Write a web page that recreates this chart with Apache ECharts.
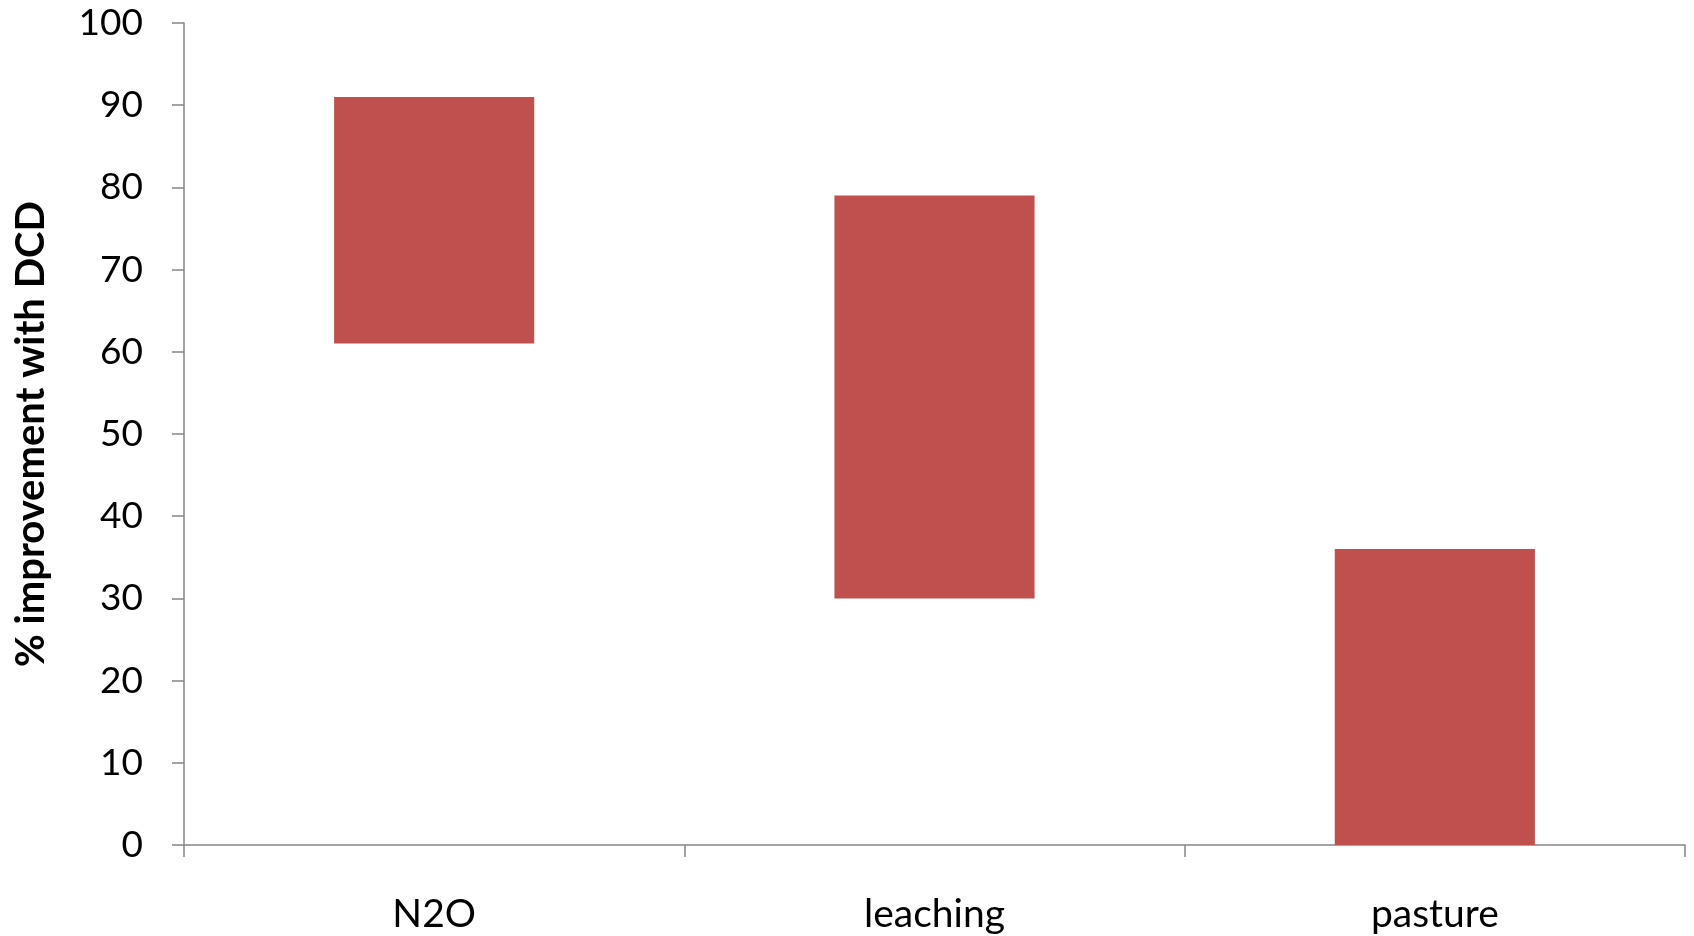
<!DOCTYPE html>
<html>
<head>
<meta charset="utf-8">
<script src="https://cdn.jsdelivr.net/npm/echarts@6/dist/echarts.min.js"></script>
<style>
  html, body { margin: 0; padding: 0; background: #ffffff; }
  #chart { width: 1694px; height: 936px; }
</style>
</head>
<body>
<div id="chart"></div>
<script>
// Range of improvement (low..high) for each measure
const categories = ['N2O', 'leaching', 'pasture'];
const lowValues = [61, 30, 0];
const highValues = [91, 79, 36];
const yTicks = { min: 0, max: 100, interval: 10 };

const spanValues = highValues.map((h, i) => h - lowValues[i]);

const axisGray = '#868686';
const fontFamily = 'Lato, "Open Sans", sans-serif';

const chart = echarts.init(document.getElementById('chart'), null, { renderer: 'canvas' });
chart.setOption({
  animation: false,
  backgroundColor: '#ffffff',
  grid: { left: 184, right: 9, top: 23, bottom: 91, containLabel: false },
  xAxis: {
    type: 'category',
    data: categories,
    boundaryGap: true,
    axisLine: { lineStyle: { color: axisGray, width: 1.5 } },
    axisTick: { show: true, length: 12, lineStyle: { color: axisGray, width: 1.5 } },
    axisLabel: { color: '#000', fontSize: 39, fontFamily: fontFamily, margin: 50 }
  },
  yAxis: {
    type: 'value',
    min: yTicks.min,
    max: yTicks.max,
    interval: yTicks.interval,
    name: '% improvement with DCD',
    nameLocation: 'middle',
    nameGap: 133,
    nameTextStyle: { color: '#000', fontSize: 40, fontWeight: 'bold', fontFamily: fontFamily },
    axisLine: { show: true, lineStyle: { color: axisGray, width: 1.5 } },
    axisTick: { show: true, length: 12, lineStyle: { color: axisGray, width: 1.5 } },
    splitLine: { show: false },
    axisLabel: { color: '#000', fontSize: 37, fontFamily: fontFamily, margin: 41 }
  },
  series: [
    {
      name: 'base',
      type: 'bar',
      stack: 'range',
      data: lowValues,
      barWidth: '40%',
      itemStyle: { color: 'transparent' },
      silent: true
    },
    {
      name: 'range',
      type: 'bar',
      stack: 'range',
      data: spanValues,
      barWidth: '40%',
      itemStyle: { color: '#C0504D' }
    }
  ]
});
</script>
</body>
</html>
